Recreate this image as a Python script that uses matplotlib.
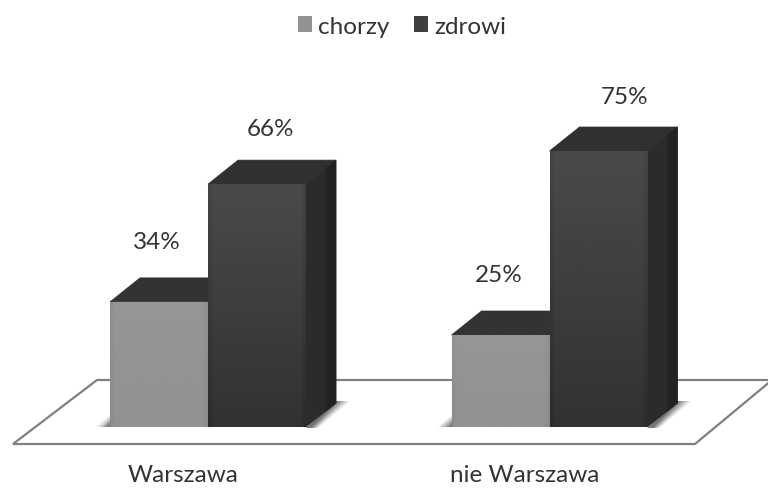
import numpy as np
import matplotlib
matplotlib.use("Agg")
import matplotlib.pyplot as plt
from matplotlib.patches import Polygon

categories = ["Warszawa", "nie Warszawa"]
series_names = ["chorzy", "zdrowi"]
chorzy = [34, 25]
zdrowi = [66, 75]

W, H = 768, 489
plt.rcParams["font.family"] = ["Lato", "DejaVu Sans"]
fig = plt.figure(figsize=(W / 100, H / 100), dpi=100, facecolor="white")
ax = fig.add_axes([0, 0, 1, 1])

# scales: one category = 341.5 px, one percent = 3.68 px
PX_CAT, PX_PCT = 341.5, 3.68
X0, Y0 = 208, 428
ax.set_xlim((0 - X0) / PX_CAT, (W - X0) / PX_CAT)
ax.set_ylim((Y0 - H) / PX_PCT, Y0 / PX_PCT)
ax.axis("off")

dx, dy = 30 / PX_CAT, 24 / PX_PCT      # depth of the 3D extrusion
bw = 98 / PX_CAT
TEXT = "#333333"


def px(x, y):
    return ((x - X0) / PX_CAT, (Y0 - y) / PX_PCT)


# floor
ax.add_patch(Polygon([px(13, 445), px(695, 445), px(772, 381), px(97, 381)],
                     closed=True, fc="white", ec="#808080", lw=1.6, zorder=1))


def gradient(bar, top, bottom, z):
    x, w, h = bar.get_x(), bar.get_width(), bar.get_height()
    g = np.linspace(top, bottom, 64)[:, None]
    edge = np.interp(np.linspace(0, 1, 64), [0, .05, .95, 1], [-7, 0, 0, -7])
    img = g + edge[None, :]
    im = ax.imshow(img, cmap="gray", vmin=0, vmax=255, aspect="auto",
                   extent=(x, x + w, 0, h), origin="upper", zorder=z,
                   interpolation="bilinear")
    im.set_clip_path(bar)


def extrude(x, h, top_c, side_c, back_c, z):
    ax.add_patch(Polygon([(x, h), (x + bw, h), (x + bw + dx, h + dy), (x + dx, h + dy)],
                         closed=True, fc=top_c, ec=top_c, lw=.5, zorder=z))
    ax.add_patch(Polygon([(x + bw, 0), (x + bw + dx, dy), (x + bw + dx, h + dy), (x + bw, h)],
                         closed=True, fc=side_c, ec=side_c, lw=.5, zorder=z))
    ax.add_patch(Polygon([(x + bw + dx * .66, dy * .66), (x + bw + dx, dy),
                          (x + bw + dx, h + dy), (x + bw + dx * .66, h + dy * .66)],
                         closed=True, fc=back_c, ec=back_c, lw=.3, zorder=z + .1))


handles = []
for i in range(len(categories)):
    # soft contact shadows
    for k, a in zip((1.0, .8, .6, .4, .2), (.08, .11, .14, .17, .2)):
        sx = 14 * k / PX_CAT
        ax.add_patch(Polygon([(i - bw - sx, 0), (i, 0),
                              (i, (2 + 10 * k) / PX_PCT), (i - bw, (2 + 10 * k) / PX_PCT)],
                             closed=True, fc="black", ec="none", alpha=a, zorder=2))
        ax.add_patch(Polygon([(i + bw, -1 / PX_PCT), (i + bw + (4 + 8 * k) / PX_CAT, -1 / PX_PCT),
                              (i + bw + dx + sx, dy + 2 / PX_PCT), (i + bw + dx, dy + 2 / PX_PCT)],
                             closed=True, fc="black", ec="none", alpha=a, zorder=2))

    extrude(i - bw, chorzy[i], "#333333", "#2e2e2e", "#2e2e2e", 3)
    b1 = ax.bar(i - bw, chorzy[i], bw, align="edge", color="#929292", zorder=4)
    gradient(b1[0], 150, 146, 4.5)

    extrude(i, zdrowi[i], "#303030", "#2b2b2b", "#222222", 5)
    b2 = ax.bar(i, zdrowi[i], bw, align="edge", color="#3f3f3f", zorder=6)
    gradient(b2[0], 74, 50, 6.5)
    if i == 0:
        handles = [b1, b2]

    ax.text(i - bw / 2 - 2 / PX_CAT, chorzy[i] + 60 / PX_PCT, f"{chorzy[i]}%",
            ha="center", va="center", fontsize=17.5, color=TEXT, zorder=9)
    lift = {0: (14, 56), 1: (26, 54)}[i]
    ax.text(i + bw / 2 + lift[0] / PX_CAT, zdrowi[i] + lift[1] / PX_PCT, f"{zdrowi[i]}%",
            ha="center", va="center", fontsize=17.5, color=TEXT, zorder=9)
    ax.text(i - 25 / PX_CAT, -48 / PX_PCT, categories[i], ha="center", va="center",
            fontsize=17.5, color=TEXT, zorder=9)

ax.set_xlim((0 - X0) / PX_CAT, (W - X0) / PX_CAT)
ax.set_ylim((Y0 - H) / PX_PCT, Y0 / PX_PCT)

leg = ax.legend(handles, series_names, ncol=2, loc="center", frameon=False,
                bbox_to_anchor=(402 / W, 1 - 27 / H), fontsize=17.5, labelcolor=TEXT,
                handlelength=0.6, handleheight=0.6, handletextpad=0.25, columnspacing=1.0,
                borderpad=0)

fig.savefig("out.png", dpi=100, facecolor="white")
